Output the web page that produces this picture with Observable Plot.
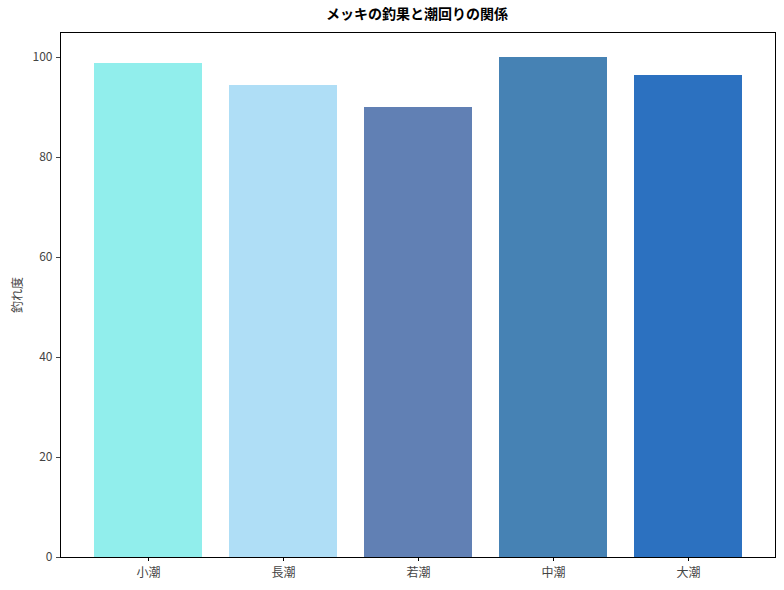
<!DOCTYPE html>
<html><head><meta charset="utf-8">
<script src="https://cdn.jsdelivr.net/npm/d3@7"></script>
<script src="https://cdn.jsdelivr.net/npm/@observablehq/plot@0.6"></script>
<style>
body{margin:0;background:#fff;font-family:"Noto Sans CJK JP",sans-serif;}
#wrap{width:784px;}
#title{position:relative;height:26px;}
#title span{position:absolute;left:417px;top:6px;transform:translateX(-50%);font-size:14px;font-weight:bold;color:#000;white-space:nowrap;line-height:1;}
</style></head><body>
<div id="wrap"><div id="title"><span>メッキの釣果と潮回りの関係</span></div><div id="chart"></div></div>
<script>
const categories = ["小潮","長潮","若潮","中潮","大潮"];
const values = [98.8, 94.4, 90.0, 100.0, 96.4];
const colors = ["#91EEEC","#AFDEF6","#6180B4","#4682B4","#2C71C0"];
const yTicks = [0,20,40,60,80,100];
const yLabel = "釣れ度";

const data = categories.map((c,i)=>({cat:c, val:values[i], col:colors[i]}));

const chart = Plot.plot({
  width: 784, height: 564,
  marginLeft: 60, marginRight: 9, marginTop: 6, marginBottom: 33,
  style: {fontFamily: '"Noto Sans CJK JP", sans-serif', fontSize: "12px", color: "#444"},
  x: {domain: categories, paddingInner: 0.2, paddingOuter: 0.24, label: null},
  y: {domain: [0,105], ticks: yTicks, label: yLabel},
  marks: [
    Plot.barY(data, {x: "cat", y: "val", fill: "col"}),
    Plot.frame({stroke: "#000", strokeWidth: 1}),
    Plot.axisX({tickSize: 4, tickPadding: 7, fontSize: 12, stroke: "#000"}),
    Plot.axisY({ticks: yTicks, tickSize: 4, tickPadding: 4, fontSize: 12, label: yLabel, labelAnchor: "center", labelArrow: "none", labelOffset: 47})
  ]
});
document.getElementById("chart").appendChild(chart);
</script>
</body></html>
